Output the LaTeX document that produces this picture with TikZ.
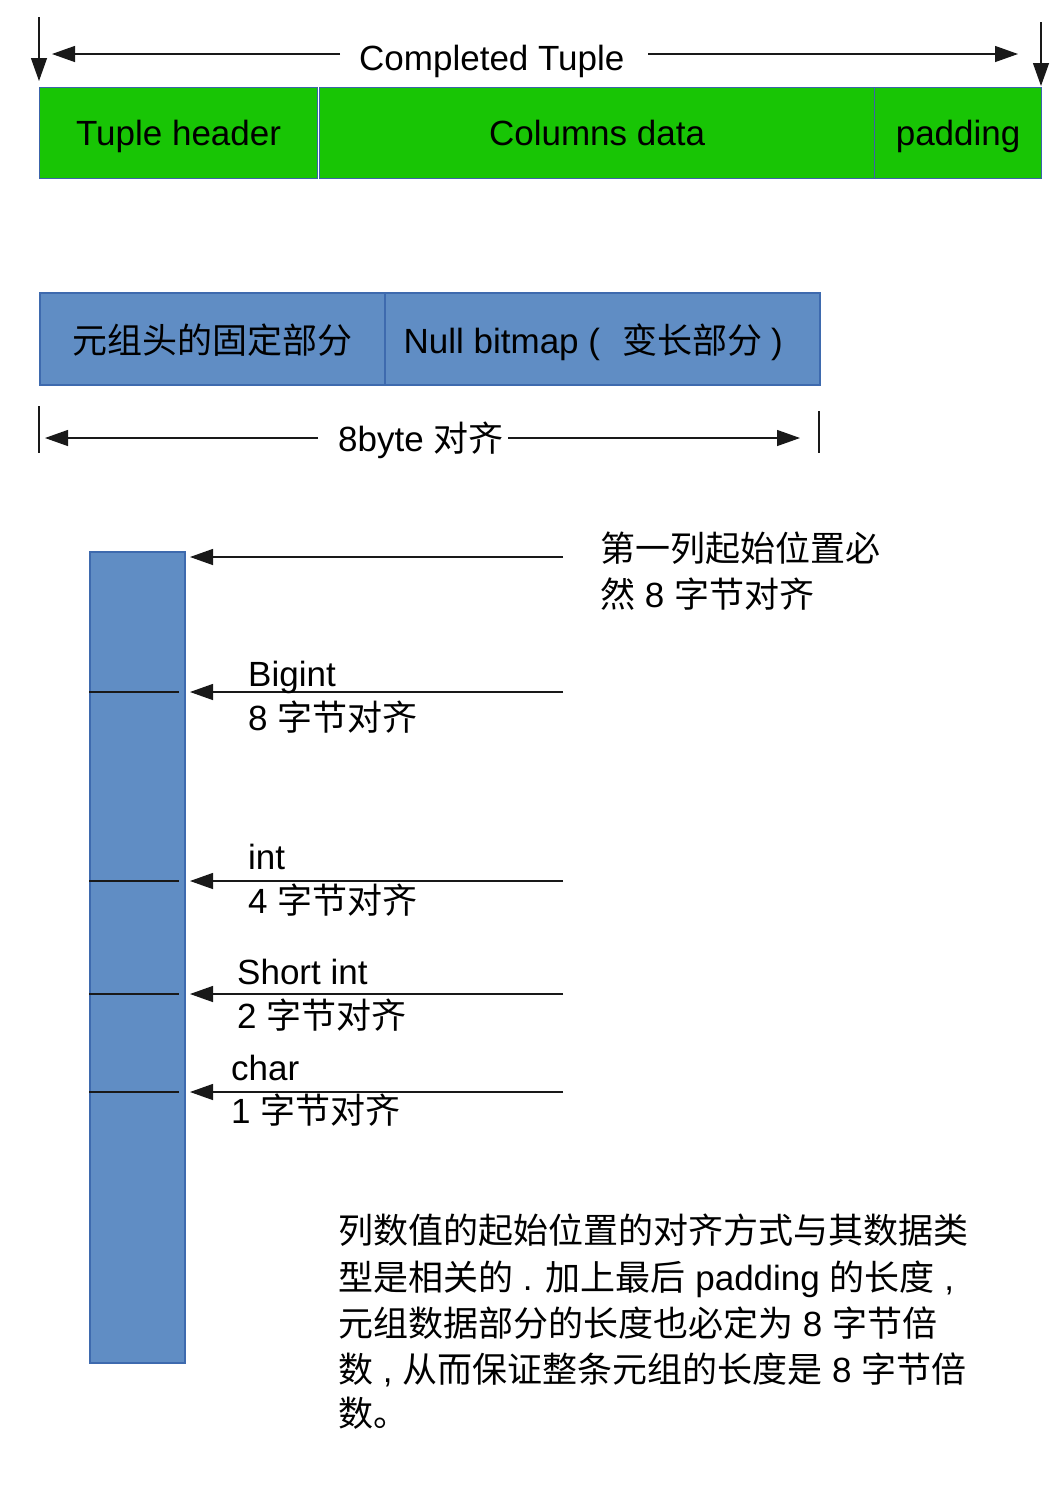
\documentclass[tikz,border=0pt]{standalone}
\usepackage{fontspec}
\setmainfont{Liberation Sans}
\newfontfamily\cjk{Noto Sans CJK SC}
\usetikzlibrary{arrows.meta}
\newcommand\zh[1]{{\cjk #1}}
\definecolor{tgreen}{RGB}{24,197,5}
\definecolor{tblue}{RGB}{96,141,196}
\definecolor{gedge}{RGB}{60,100,170}
\definecolor{bedge}{RGB}{62,106,174}
\definecolor{ink}{RGB}{25,25,25}
\begin{document}
\begin{tikzpicture}[x=1pt,y=-1pt,
  txt/.style={font=\fontsize{35}{46}\selectfont, inner sep=0pt, text=black, anchor=base west},
  arr/.style={-{Triangle[length=23pt,width=16pt]}, line width=1.3pt, draw=ink},
  plainline/.style={line width=1.3pt, draw=ink},
  gbox/.style={draw=gedge, fill=tgreen, line width=1.2pt, minimum height=91pt, inner sep=0pt,
    anchor=north west, font=\fontsize{35}{46}\selectfont, text height=25pt, text depth=0pt},
  bbox/.style={draw=bedge, fill=tblue, line width=1.5pt, minimum height=92pt, inner sep=0pt,
    anchor=north west, font=\fontsize{35}{46}\selectfont, text height=30pt, text depth=0pt},
  colbox/.style={draw=bedge, fill=tblue, line width=1.5pt, inner sep=0pt, anchor=north west}
]
\useasboundingbox (0,0) rectangle (1058,1497);

% ---------- Completed Tuple ----------
\node[gbox, minimum width=278pt] (th) at (39,87) {Tuple header};
\node[gbox, minimum width=555pt] (cd) at (319,87) {Columns data};
\node[gbox, minimum width=167pt] (pd) at (874,87) {padding};

\node[txt] (ct) at (359,70) {Completed Tuple};
\coordinate (vl1) at (39,17);
\coordinate (vl2) at (39,81);
\coordinate (vr1) at (1041,22);
\coordinate (vr2) at (1041,86);
\coordinate (hl1) at (340,54);
\coordinate (hl2) at (52,54);
\coordinate (hr1) at (648,54);
\coordinate (hr2) at (1018,54);
\draw[arr] (vl1) -- (vl2);
\draw[arr] (vr1) -- (vr2);
\draw[arr] (hl1) -- (hl2);
\draw[arr] (hr1) -- (hr2);

% ---------- header parts ----------
\node[bbox, minimum width=345pt] (fix) at (39,292) {\zh{元组头的固定部分}};
\node[bbox, minimum width=435pt] (nb) at (384,292)
  {Null bitmap (\hspace{22pt}\zh{变长部分}\hspace{9pt})\hspace*{18pt}\null};

\node[txt] (eb) at (338,451) {8byte \zh{对齐}};
\coordinate (el1) at (39,406);
\coordinate (el2) at (39,453);
\coordinate (er1) at (819,411);
\coordinate (er2) at (819,453);
\draw[plainline] (el1) -- (el2);
\draw[plainline] (er1) -- (er2);
\coordinate (ea1) at (318,438);
\coordinate (ea2) at (45,438);
\coordinate (eb1) at (508,438);
\coordinate (eb2) at (800,438);
\draw[arr] (ea1) -- (ea2);
\draw[arr] (eb1) -- (eb2);

% ---------- column ----------
\node[colbox, minimum width=95pt, minimum height=811pt] (col) at (89,551) {};
\foreach \yy in {692,881,994,1092}{
  \draw[plainline] (89,\yy) -- (179,\yy);
}
\coordinate (s1) at (563,557);  \coordinate (t1) at (190,557);
\coordinate (s2) at (563,692);  \coordinate (t2) at (190,692);
\coordinate (s3) at (563,881);  \coordinate (t3) at (190,881);
\coordinate (s4) at (563,994);  \coordinate (t4) at (190,994);
\coordinate (s5) at (563,1092); \coordinate (t5) at (190,1092);
\draw[arr] (s1) -- (t1);
\draw[arr] (s2) -- (t2);
\draw[arr] (s3) -- (t3);
\draw[arr] (s4) -- (t4);
\draw[arr] (s5) -- (t5);

\node[txt] (f1) at (600,561) {\zh{第一列起始位置必}};
\node[txt] (f2) at (600,607) {\zh{然} 8 \zh{字节对齐}};

\node[txt] (b1) at (248,686) {Bigint};
\node[txt] (b2) at (248,730) {8 \zh{字节对齐}};
\node[txt] (i1) at (248,869) {int};
\node[txt] (i2) at (248,913) {4 \zh{字节对齐}};
\node[txt] (si1) at (237,984) {Short int};
\node[txt] (si2) at (237,1028) {2 \zh{字节对齐}};
\node[txt] (c1) at (231,1080) {char};
\node[txt] (c2) at (231,1123) {1 \zh{字节对齐}};

% ---------- paragraph ----------
\node[txt] (p1) at (338,1243) {\zh{列数值的起始位置的对齐方式与其数据类}};
\node[txt] (p2) at (338,1290) {\zh{型是相关的} . \zh{加上最后} padding \zh{的长度} ,};
\node[txt] (p3) at (338,1336) {\zh{元组数据部分的长度也必定为} 8 \zh{字节倍}};
\node[txt] (p4) at (338,1382) {\zh{数} , \zh{从而保证整条元组的长度是} 8 \zh{字节倍}};
\node[txt] (p5) at (338,1426) {\zh{数。}};
\end{tikzpicture}
\end{document}
